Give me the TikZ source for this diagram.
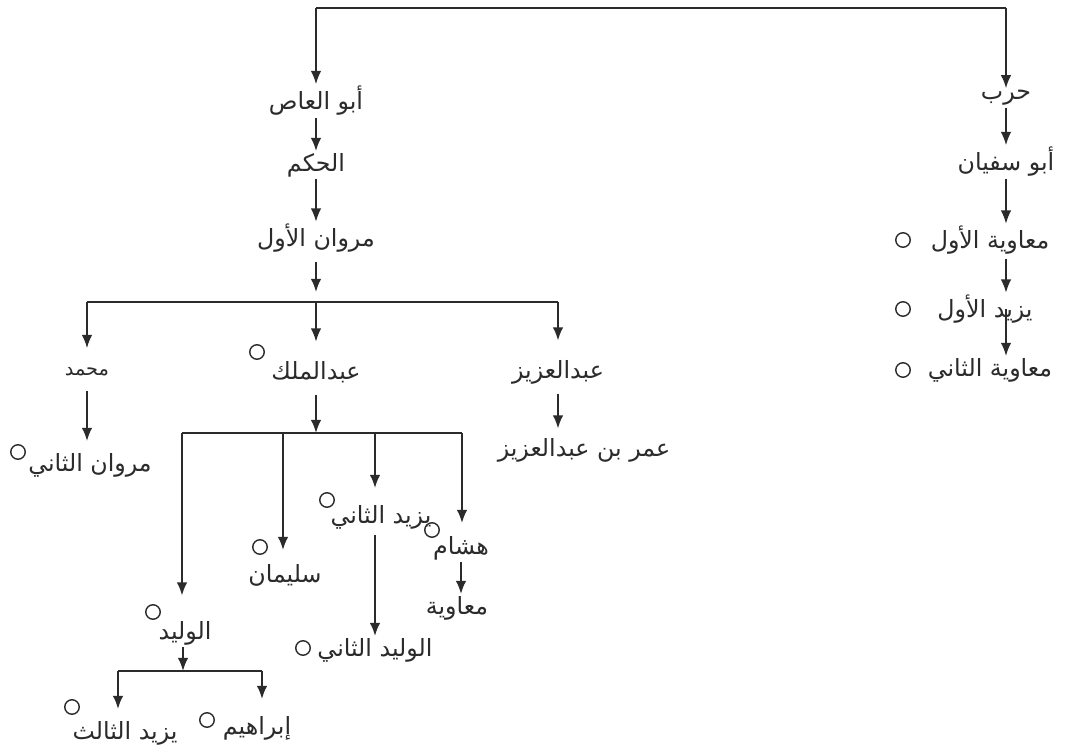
\documentclass[tikz,border=0pt]{standalone}
\usepackage{fontspec}
\usepackage{xcolor}
\newfontfamily\arabicfont[Script=Arabic]{DejaVu Sans}
\TeXXeTstate=1
\usetikzlibrary{arrows.meta}
\newcommand{\artxt}[1]{\beginR #1\endR}
\definecolor{inkgray}{HTML}{2B2B2B}
\tikzset{
	person/.style={font=\arabicfont\fontsize{13.5}{15}\selectfont, text=inkgray, inner sep=1pt},
	small person/.style={person, font=\arabicfont\fontsize{11}{13}\selectfont},
	caliph/.style={circle, draw=inkgray, line width=0.8pt, minimum size=0.29cm, inner sep=0pt},
	arr/.style={-{Latex[length=7.5pt,width=6pt]}},
	link/.style={draw=inkgray, line width=1pt}
}

\begin{document}
\begin{tikzpicture}[x=0.02cm, y=-0.02cm]
	\useasboundingbox (0,0) rectangle (1068,753);
	\fill[white] (0,0) rectangle (1068,753);

	% Marwanid branch
	\node[person] (abulas) at (316,101) {\artxt{أبو العاص}};
	\node[person] (hakam) at (316,165) {\artxt{الحكم}};
	\node[person] (marwan1) at (316,238) {\artxt{مروان الأول}};
	\node[small person] (muhammad) at (87,372) {\artxt{محمد}};
	\node[person] (abdmalik) at (316,372) {\artxt{عبدالملك}};
	\node[person] (abdaziz) at (558,372) {\artxt{عبدالعزيز}};
	\node[person] (marwan2) at (90,465) {\artxt{مروان الثاني}};
	\node[person] (umar) at (584,450) {\artxt{عمر بن عبدالعزيز}};
	\node[person] (yazid2) at (381,517) {\artxt{يزيد الثاني}};
	\node[person] (walid2) at (375,650) {\artxt{الوليد الثاني}};
	\node[person] (hisham) at (461,548) {\artxt{هشام}};
	\node[person] (muawiya) at (457,608) {\artxt{معاوية}};
	\node[person] (sulayman) at (285,575) {\artxt{سليمان}};
	\node[person] (walid) at (185,633) {\artxt{الوليد}};
	\node[person] (yazid3) at (125,733) {\artxt{يزيد الثالث}};
	\node[person] (ibrahim) at (257,728) {\artxt{إبراهيم}};

	% Sufyanid branch
	\node[person] (harb) at (1006,98) {\artxt{حرب}};
	\node[person] (abusufyan) at (1006,162) {\artxt{أبو سفيان}};
	\node[person] (muawiya1) at (990,240) {\artxt{معاوية الأول}};
	\node[person] (yazid1) at (985,309) {\artxt{يزيد الأول}};
	\node[person] (muawiya2) at (990,370) {\artxt{معاوية الثاني}};

	% circles for the caliphs
	\node[caliph] (abdmalik-o) at (257,352) {};
	\node[caliph] (marwan2-o) at (18,452) {};
	\node[caliph] (yazid2-o) at (327,500) {};
	\node[caliph] (walid2-o) at (303,648) {};
	\node[caliph] (hisham-o) at (432,530) {};
	\node[caliph] (sulayman-o) at (260,547) {};
	\node[caliph] (walid-o) at (153,612) {};
	\node[caliph] (yazid3-o) at (72,707) {};
	\node[caliph] (ibrahim-o) at (207,720) {};
	\node[caliph] (muawiya1-o) at (903,240) {};
	\node[caliph] (yazid1-o) at (903,309) {};
	\node[caliph] (muawiya2-o) at (903,370) {};

	% bars
	\coordinate (top-l) at (316,8);
	\coordinate (top-r) at (1006,8);
	\coordinate (bar1) at (316,302);
	\coordinate (bar2) at (316,433);
	\coordinate (bar3) at (183,671);
	\coordinate (bar3-l) at (118,671);
	\coordinate (bar3-r) at (262,671);

	\draw[link] (top-l) -- (top-r);
	\draw[link] (87,302) -- (558,302);
	\draw[link] (182,433) -- (462,433);
	\draw[link] (bar3-l) -- (bar3-r);

	\draw[link, arr] (top-l) -- (abulas);
	\draw[link, arr] (top-r) -- (harb);
	\draw[link, arr] (abulas) -- (hakam);
	\draw[link, arr] (hakam) -- (marwan1);
	\draw[link, arr, shorten <=0.15cm, shorten >=0.2cm] (marwan1) -- (bar1);
	\draw[link, arr, shorten >=0.35cm] (bar1 -| muhammad) -- (muhammad);
	\draw[link, arr, shorten >=0.35cm] (bar1) -- (abdmalik);
	\draw[link, arr, shorten >=0.35cm] (bar1 -| abdaziz) -- (abdaziz);
	\draw[link, arr, shorten <=0.25cm, shorten >=0.2cm] (muhammad.south) -- (muhammad.south |- marwan2.north);
	\draw[link, arr, shorten <=0.15cm, shorten >=0.15cm] (abdaziz.south) -- (abdaziz.south |- umar.north);
	\draw[link, arr, shorten <=0.2cm] (abdmalik) -- (bar2);
	\draw[link, arr, shorten >=0.25cm] (182,433) -- (182,608);
	\draw[link, arr, shorten >=0.2cm] (283,433) -- (283,560);
	\draw[link, arr] (375,433) -- (375,488);
	\draw[link, arr] (462,433) -- (462,523);
	\draw[link, arr, shorten <=0.05cm] (375,532) -- (walid2.north -| 375,0);
	\draw[link, arr] (hisham.south) -- (hisham.south |- muawiya.north);
	\draw[link, arr] (walid.south -| bar3) -- (bar3);
	\draw[link, arr, shorten >=0.2cm] (bar3-l) -- (bar3-l |- yazid3.north);
	\draw[link, arr, shorten >=0.3cm] (bar3-r) -- (bar3-r |- ibrahim.north);

	\draw[link, arr] (harb) -- (abusufyan);
	\draw[link, arr] (abusufyan.south) -- (abusufyan.south |- muawiya1.north);
	\draw[link, arr, shorten <=0.05cm] (abusufyan.south |- muawiya1.south) -- (abusufyan.south |- yazid1.north);
	\draw[link, arr] (abusufyan.south |- yazid1.center) -- (abusufyan.south |- muawiya2.north);
\end{tikzpicture}
\end{document}
